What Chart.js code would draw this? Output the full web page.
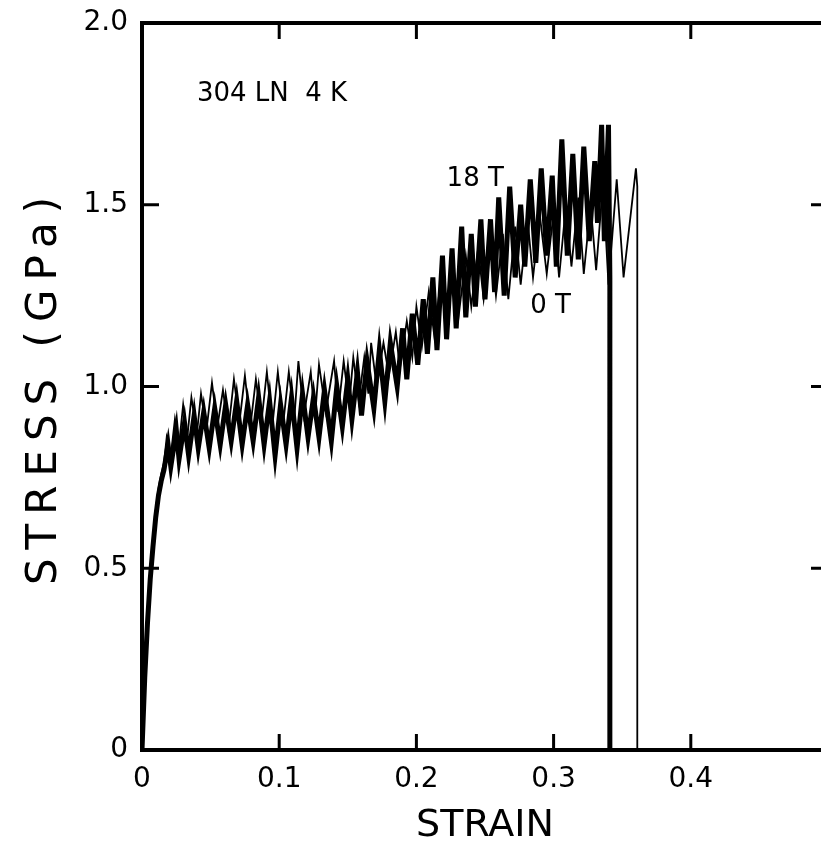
<!DOCTYPE html>
<html>
<head>
<meta charset="utf-8">
<title>304LN stress-strain 4 K</title>
<script src="https://cdn.jsdelivr.net/npm/chart.js@4.4.0/dist/chart.umd.min.js"></script>
<style>
	html, body { margin: 0; padding: 0; background: #fff; overflow: hidden; }
	#wrap { width: 840px; height: 849px; }
</style>
</head>
<body>
<div id="wrap"><canvas id="linecanvas"></canvas></div>
<script>
// 18 T curve (thick line)
var strain18 = [0, 0.002, 0.004, 0.006, 0.008, 0.010, 0.012, 0.014, 0.016,
	0.019, 0.021, 0.025, 0.027, 0.031, 0.034, 0.038, 0.041, 0.045, 0.049,
	0.053, 0.057, 0.061, 0.065, 0.069, 0.073, 0.077, 0.081, 0.085, 0.089,
	0.093, 0.097, 0.101, 0.105, 0.109, 0.113, 0.117, 0.121, 0.125, 0.129,
	0.133, 0.138, 0.142, 0.146, 0.150, 0.153, 0.157, 0.160, 0.164, 0.169,
	0.173, 0.177, 0.181, 0.186, 0.190, 0.193, 0.197, 0.201, 0.205, 0.208,
	0.212, 0.215, 0.219, 0.222, 0.226, 0.229, 0.233, 0.236, 0.240, 0.243,
	0.247, 0.250, 0.254, 0.257, 0.260, 0.264, 0.268, 0.272, 0.276, 0.279,
	0.283, 0.287, 0.291, 0.295, 0.299, 0.302, 0.306, 0.310, 0.314, 0.318,
	0.322, 0.326, 0.330, 0.332, 0.335, 0.337, 0.340, 0.341, 0.341];
var stress18 = [0, 0.20, 0.35, 0.47, 0.56, 0.64, 0.70, 0.74, 0.77,
	0.84, 0.78, 0.88, 0.80, 0.90, 0.81, 0.92, 0.83, 0.93, 0.83,
	0.94, 0.84, 0.95, 0.85, 0.96, 0.84, 0.95, 0.85, 0.97, 0.84,
	0.96, 0.81, 0.95, 0.84, 0.97, 0.83, 0.98, 0.86, 0.97, 0.86,
	0.99, 0.85, 1.00, 0.89, 1.02, 0.91, 1.04, 0.92, 1.07, 0.94,
	1.10, 0.96, 1.12, 1.00, 1.16, 1.02, 1.20, 1.06, 1.24, 1.09,
	1.30, 1.10, 1.36, 1.13, 1.38, 1.16, 1.44, 1.19, 1.42, 1.22,
	1.46, 1.24, 1.46, 1.26, 1.52, 1.25, 1.55, 1.30, 1.50, 1.33,
	1.57, 1.34, 1.60, 1.36, 1.58, 1.33, 1.68, 1.36, 1.64, 1.35,
	1.66, 1.40, 1.62, 1.45, 1.72, 1.40, 1.72, 1.30, 0];

// 0 T curve (thin line)
var strain0 = [0, 0.002, 0.004, 0.006, 0.008, 0.010, 0.012, 0.014, 0.016,
	0.018, 0.021, 0.024, 0.027, 0.030, 0.033, 0.036, 0.040, 0.043, 0.047,
	0.051, 0.055, 0.059, 0.063, 0.067, 0.071, 0.075, 0.079, 0.083, 0.087,
	0.091, 0.095, 0.099, 0.103, 0.107, 0.111, 0.114, 0.118, 0.123, 0.126,
	0.129, 0.134, 0.140, 0.143, 0.147, 0.151, 0.154, 0.158, 0.162, 0.165,
	0.167, 0.171, 0.176, 0.180, 0.185, 0.188, 0.193, 0.197, 0.200, 0.204,
	0.209, 0.213, 0.218, 0.222, 0.227, 0.231, 0.236, 0.240, 0.245, 0.249,
	0.254, 0.258, 0.263, 0.267, 0.272, 0.276, 0.281, 0.285, 0.290, 0.295,
	0.300, 0.304, 0.309, 0.313, 0.318, 0.322, 0.327, 0.331, 0.336, 0.340,
	0.346, 0.351, 0.360, 0.361, 0.361];
var stress0 = [0, 0.22, 0.37, 0.49, 0.58, 0.66, 0.72, 0.76, 0.79,
	0.86, 0.81, 0.91, 0.84, 0.95, 0.86, 0.97, 0.87, 0.98, 0.88,
	1.01, 0.89, 0.99, 0.88, 1.02, 0.90, 1.03, 0.89, 1.02, 0.90,
	1.04, 0.89, 1.04, 0.90, 1.04, 0.91, 1.07, 0.92, 1.04, 0.91,
	1.06, 0.93, 1.07, 0.93, 1.07, 0.95, 1.08, 0.96, 1.08, 0.98,
	1.12, 1.00, 1.12, 1.03, 1.15, 1.05, 1.18, 1.08, 1.22, 1.11,
	1.26, 1.14, 1.30, 1.16, 1.33, 1.20, 1.36, 1.22, 1.38, 1.24,
	1.40, 1.25, 1.42, 1.24, 1.44, 1.28, 1.46, 1.30, 1.47, 1.31,
	1.48, 1.30, 1.50, 1.33, 1.52, 1.31, 1.50, 1.32, 1.56, 1.28,
	1.57, 1.30, 1.60, 1.55, 0];

var xTickValues = [0, 0.1, 0.2, 0.3, 0.4];
var xTickLabels = ['0', '0.1', '0.2', '0.3', '0.4'];
var yTickValues = [0, 0.5, 1.0, 1.5, 2.0];
var yTickLabels = ['0', '0.5', '1.0', '1.5', '2.0'];
var xMarks = [0.1, 0.2, 0.3, 0.4];
var yMarks = [0.5, 1.0, 1.5];

// text written inside the plot: [text, strain, stress]
var notes = [
	['304 LN  4 K', 0.040, 1.805],
	['18 T', 0.222, 1.57],
	['0 T', 0.283, 1.22]
];

function pairs(xs, ys) {
	var out = [];
	for (var i in xs) {
		out.push({x: xs[i], y: ys[i]});
	}
	return out;
}

// box round the plot, inward ticks on all four sides, and the notes
var frame = {
	id: 'frame',
	beforeDraw: function(chart) {
		// the lettering of the y title is spread out in the original
		var s = chart.scales.y;
		if (!s._spaced) {
			var orig = s.drawTitle;
			s.drawTitle = function() {
				var c = this.ctx;
				c.save();
				c.letterSpacing = '9px';
				orig.call(this);
				c.restore();
			};
			s._spaced = true;
		}
	},
	afterDraw: function(chart) {
		var ctx = chart.ctx;
		var a = chart.chartArea;
		var sx = chart.scales.x;
		var sy = chart.scales.y;
		ctx.save();
		ctx.strokeStyle = '#000';
		ctx.lineWidth = 4;
		ctx.strokeRect(a.left, a.top, a.right - a.left, a.bottom - a.top);
		ctx.lineWidth = 3;
		ctx.beginPath();
		xMarks.forEach(function(v) {
			var px = sx.getPixelForValue(v);
			ctx.moveTo(px, a.bottom); ctx.lineTo(px, a.bottom - 16);
			ctx.moveTo(px, a.top); ctx.lineTo(px, a.top + 16);
		});
		yMarks.forEach(function(v) {
			var py = sy.getPixelForValue(v);
			ctx.moveTo(a.left, py); ctx.lineTo(a.left + 17, py);
			ctx.moveTo(a.right, py); ctx.lineTo(a.right - 17, py);
		});
		ctx.stroke();

		ctx.fillStyle = '#000';
		ctx.font = '26px "DejaVu Sans"';
		ctx.textBaseline = 'middle';
		ctx.textAlign = 'left';
		notes.forEach(function(n) {
			ctx.fillText(n[0], sx.getPixelForValue(n[1]), sy.getPixelForValue(n[2]));
		});
		ctx.restore();
	}
};

Chart.defaults.font.family = '"DejaVu Sans"';
Chart.defaults.color = '#000';

var ctx = document.getElementById('linecanvas');

var graph = new Chart(ctx, {
	type: 'line',
	data: {
		datasets: [
			{
				label: '18 T',
				data: pairs(strain18, stress18),
				borderColor: '#000',
				borderWidth: 5,
				pointRadius: 0,
				tension: 0,
				fill: false
			},
			{
				label: '0 T',
				data: pairs(strain0, stress0),
				borderColor: '#000',
				borderWidth: 1.8,
				pointRadius: 0,
				tension: 0,
				fill: false
			}
		]
	},
	options: {
		animation: false,
		responsive: true,
		maintainAspectRatio: false,
		layout: { padding: { top: 23, right: 12, left: 0, bottom: 0 } },
		plugins: {
			legend: { display: false },
			tooltip: { enabled: false }
		},
		scales: {
			x: {
				type: 'linear',
				min: 0,
				max: 0.5,
				grid: { display: false, drawTicks: false },
				border: { display: false },
				afterBuildTicks: function(s) {
					s.ticks = xTickValues.map(function(v) { return {value: v}; });
				},
				ticks: {
					padding: 13,
					font: { size: 28 },
					maxRotation: 0,
					callback: function(v) {
						var i = xTickValues.indexOf(v);
						return i >= 0 ? xTickLabels[i] : '';
					}
				},
				title: {
					display: true,
					text: 'STRAIN',
					font: { size: 38 },
					padding: { top: 0, bottom: 0 }
				},
				afterFit: function(s) {
					s.height = 99;
					s.paddingLeft = 0;
					s.paddingRight = 0;
				}
			},
			y: {
				min: 0,
				max: 2,
				grid: { display: false, drawTicks: false },
				border: { display: false },
				afterBuildTicks: function(s) {
					s.ticks = yTickValues.map(function(v) { return {value: v}; });
				},
				ticks: {
					padding: 14,
					font: { size: 28 },
					callback: function(v) {
						var i = yTickValues.indexOf(v);
						return i >= 0 ? yTickLabels[i] : '';
					}
				},
				title: {
					display: true,
					text: 'STRESS (GPa)',
					font: { size: 42 },
					padding: { top: 20, bottom: 0 }
				},
				afterFit: function(s) {
					s.width = 142;
					s.paddingTop = 0;
					s.paddingBottom = 0;
				}
			}
		}
	},
	plugins: [frame]
});
</script>
</body>
</html>
